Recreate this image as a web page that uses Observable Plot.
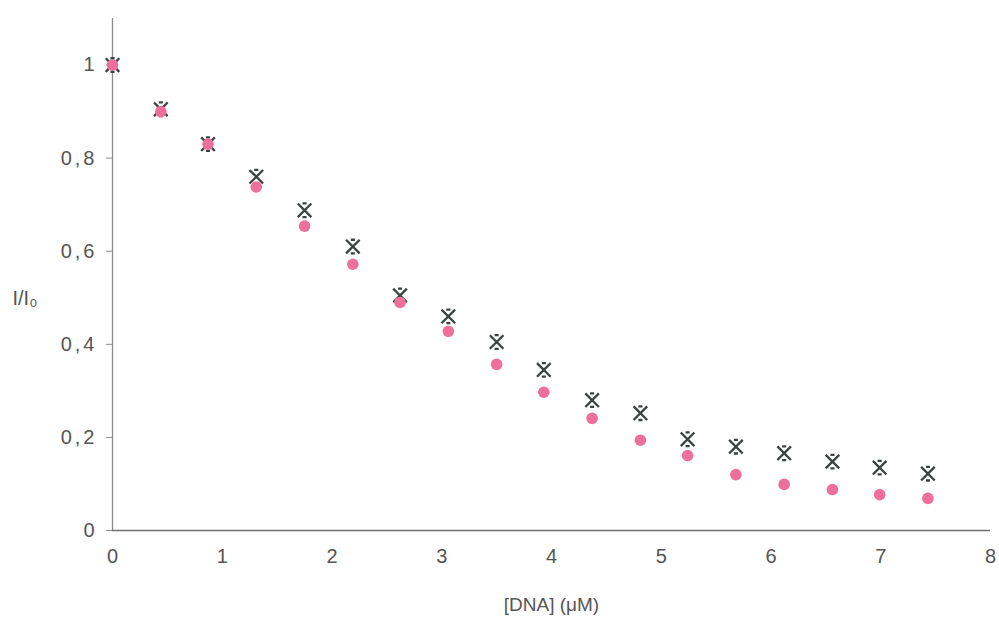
<!DOCTYPE html>
<html>
<head>
<meta charset="utf-8">
<script src="https://cdn.jsdelivr.net/npm/d3@7"></script>
<script src="https://cdn.jsdelivr.net/npm/@observablehq/plot@0.6"></script>
<style>
  html, body { margin: 0; padding: 0; background: #fff; }
  #chart { width: 999px; height: 623px; }
  g[aria-label="y-axis tick label"] text { letter-spacing: 3px; }
</style>
</head>
<body>
<div id="chart"></div>
<script>
// [DNA] concentrations (µM)
const dnaConc = [0, 0.44, 0.87, 1.31, 1.75, 2.19, 2.62, 3.06, 3.5, 3.93, 4.37, 4.81, 5.24, 5.68, 6.12, 6.56, 6.99, 7.43];
// I/I0 series: star markers (dark)
const starValues = [1, 0.905, 0.83, 0.76, 0.688, 0.61, 0.505, 0.46, 0.405, 0.345, 0.28, 0.252, 0.196, 0.18, 0.166, 0.148, 0.135, 0.122];
// I/I0 series: circle markers (pink)
const dotValues = [1, 0.9, 0.83, 0.738, 0.654, 0.572, 0.49, 0.428, 0.357, 0.297, 0.241, 0.194, 0.161, 0.12, 0.099, 0.088, 0.077, 0.069];
const xTicks = [0, 1, 2, 3, 4, 5, 6, 7, 8];
const yTicks = [0, 0.2, 0.4, 0.6, 0.8, 1];
const xLabel = "[DNA] (\u03BCM)";
const yLabel = "I/I\u2080";

const stars = dnaConc.map((x, i) => ({x, y: starValues[i]}));
const dots = dnaConc.map((x, i) => ({x, y: dotValues[i]}));

const starSymbol = {
  draw(ctx, size) {
    const r = Math.sqrt(size / Math.PI);
    const b = r * 0.3;
    ctx.moveTo(-r, -r); ctx.lineTo(r, r);
    ctx.moveTo(-r, r); ctx.lineTo(r, -r);
    ctx.moveTo(-b, -r); ctx.lineTo(b, -r);
    ctx.moveTo(-b, r); ctx.lineTo(b, r);
  }
};

const fmt = d => String(d).replace(".", ",");
const axisColor = "#8a8a8a";
const textColor = "#555555";

const chart = Plot.plot({
  width: 999,
  height: 623,
  marginLeft: 112,
  marginRight: 9,
  marginTop: 18,
  marginBottom: 93,
  style: {fontFamily: "'Liberation Sans', Arial, sans-serif", fontSize: "20px", color: textColor, background: "#fff"},
  x: {domain: [0, 8]},
  y: {domain: [0, 1.1]},
  marks: [
    Plot.axisY({ticks: yTicks, tickFormat: fmt, tickSize: 6, tickPadding: 9, stroke: axisColor, label: null, fill: textColor, fontSize: 20}),
    Plot.axisX({ticks: xTicks, tickSize: 0, tickPadding: 18, label: null, fill: textColor, fontSize: 20}),
    Plot.ruleX([0], {stroke: axisColor, strokeWidth: 1.3}),
    Plot.ruleY([0], {stroke: "#6f6f6f", strokeWidth: 1.6}),
    Plot.dot(stars, {x: "x", y: "y", symbol: starSymbol, r: 6.8, stroke: "#3b4340", strokeWidth: 2.3, fill: "none"}),
    Plot.dot(dots, {x: "x", y: "y", r: 5.8, fill: "#ee6f9c", stroke: "none"}),
    Plot.text([xLabel], {frameAnchor: "bottom", dy: 80, fill: textColor, fontSize: 19}),
    Plot.text([yLabel], {frameAnchor: "left", dx: -100, dy: 24, fill: textColor, fontSize: 20})
  ]
});
document.getElementById("chart").appendChild(chart);
</script>
</body>
</html>
